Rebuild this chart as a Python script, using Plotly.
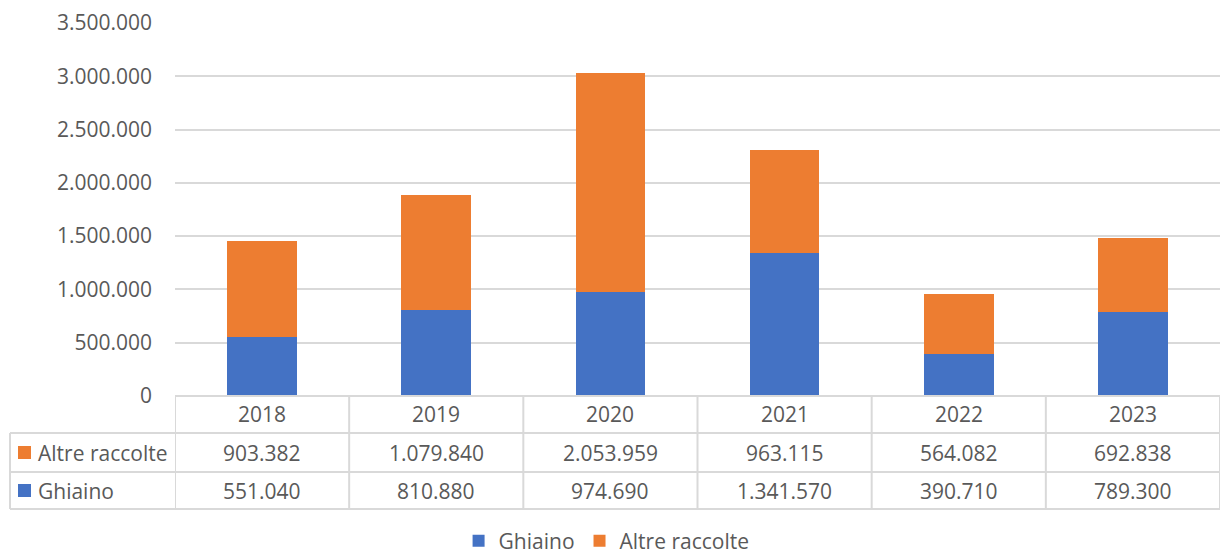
import plotly.graph_objects as go

# dati
anni = ['2018', '2019', '2020', '2021', '2022', '2023']
ghiaino = [551040, 810880, 974690, 1341570, 390710, 789300]
altre = [903382, 1079840, 2053959, 963115, 564082, 692838]

blu = '#4472C4'
arancio = '#ED7D31'
grigio = '#595959'
linea = '#D9D9D9'
font_nome = 'Open Sans'
fs = 21


def fmt(v):
    return f"{v:,}".replace(",", ".")


fig = go.Figure()
fig.add_trace(go.Bar(x=anni, y=ghiaino, name='Ghiaino', marker=dict(color=blu, line=dict(width=0))))
fig.add_trace(go.Bar(x=anni, y=altre, name='Altre raccolte', marker=dict(color=arancio, line=dict(width=0))))

fig.update_layout(
    barmode='stack',
    bargap=0.6,
    width=1223, height=555,
    margin=dict(l=175, r=3, t=23, b=159, autoexpand=False),
    paper_bgcolor='white', plot_bgcolor='white',
    separators=',.',
    font=dict(family=font_nome, size=fs, color=grigio),
    legend=dict(orientation='h', x=0.413, xanchor='center', y=(396 - 541) / 373, yanchor='middle',
                font=dict(size=fs, color=grigio), itemsizing='constant', traceorder='normal',
                borderwidth=0, tracegroupgap=0),
)

fig.update_yaxes(range=[0, 3500000], dtick=500000, tickformat=',.0f', automargin=False,
                 showgrid=True, gridcolor=linea, gridwidth=1.5, zeroline=False,
                 ticklabelstandoff=22, tickfont=dict(size=fs, color=grigio))
fig.update_xaxes(showticklabels=False, showline=False, showgrid=False, range=[-0.5, 5.5],
                 automargin=False)

# tabella dati
y_top = 0.0
y_r1 = (396 - 433) / 373
y_r2 = (396 - 472) / 373
y_bot = (396 - 509) / 373
x_left = (10 - 175) / 1045

shapes = []
# linee orizzontali
shapes.append(dict(type='line', xref='paper', yref='paper', x0=0, x1=1, y0=y_top, y1=y_top,
                   line=dict(color=linea, width=2)))
for yy in [y_r1, y_r2, y_bot]:
    shapes.append(dict(type='line', xref='paper', yref='paper', x0=x_left, x1=1, y0=yy, y1=yy,
                       line=dict(color=linea, width=2)))
# linee verticali
shapes.append(dict(type='line', xref='paper', yref='paper', x0=x_left, x1=x_left, y0=y_r1, y1=y_bot,
                   line=dict(color=linea, width=2)))
for i in range(len(anni) + 1):
    shapes.append(dict(type='line', xref='x', yref='paper', x0=i - 0.5, x1=i - 0.5, y0=y_top, y1=y_bot,
                       line=dict(color=linea, width=2)))

# chiavi legenda nella tabella
kx0 = (18 - 175) / 1045
kx1 = (31 - 175) / 1045
h = 6.5 / 373
for (ya, yb), col in [((y_r1, y_r2), arancio), ((y_r2, y_bot), blu)]:
    yc = (ya + yb) / 2
    shapes.append(dict(type='rect', xref='paper', yref='paper', x0=kx0, x1=kx1, y0=yc - h, y1=yc + h,
                       fillcolor=col, line=dict(width=0)))
fig.update_layout(shapes=shapes)

righe = [('Altre raccolte', altre, (y_r1 + y_r2) / 2), ('Ghiaino', ghiaino, (y_r2 + y_bot) / 2)]
lx = (36 - 175) / 1045
for nome, valori, yc in righe:
    fig.add_annotation(text=nome, xref='paper', yref='paper', x=lx, y=yc, xanchor='left', yanchor='middle',
                       showarrow=False, font=dict(size=fs, color=grigio))
    for i, v in enumerate(valori):
        fig.add_annotation(text=fmt(v), xref='x', yref='paper', x=i, y=yc, xanchor='center', yanchor='middle',
                           showarrow=False, font=dict(size=fs, color=grigio))
for i, a in enumerate(anni):
    fig.add_annotation(text=a, xref='x', yref='paper', x=i, y=(y_top + y_r1) / 2, xanchor='center',
                       yanchor='middle', showarrow=False, font=dict(size=fs, color=grigio))

# togli il margine del body così il grafico parte da 0,0
fig.write_html('out.html', config={'displayModeBar': False},
               post_script="document.body.style.margin='0px';")
